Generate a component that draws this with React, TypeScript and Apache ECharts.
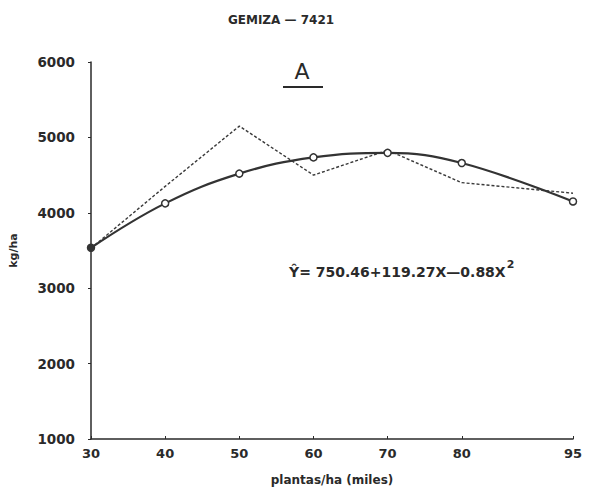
import React, { useEffect, useRef } from "react";
import * as echarts from "echarts";

const xValues = [30, 40, 50, 60, 70, 80, 95];
const fittedYield = [3536, 4125, 4520, 4735, 4795, 4660, 4150];
const observedYield = [3530, 4350, 5150, 4500, 4830, 4400, 4260];
const xTicks = [30, 40, 50, 60, 70, 80, 95];
const yTicks = [1000, 2000, 3000, 4000, 5000, 6000];

const FONT = "'DejaVu Sans', sans-serif";
const INK = "#2a2a2a";

export default function App() {
  const ref = useRef<HTMLDivElement>(null);
  useEffect(() => {
    document.body.style.margin = "0";
    if (!ref.current) return;
    const chart = echarts.init(ref.current, null, { renderer: "svg" });
    chart.setOption({
      animation: false,
      backgroundColor: "#ffffff",
      grid: { left: 89, right: 19, top: 62, bottom: 54 },
      xAxis: {
        type: "value",
        min: 30,
        max: 95,
        interval: 5,
        name: "plantas/ha (miles)",
        nameLocation: "middle",
        nameGap: 35,
        nameTextStyle: { fontFamily: FONT, fontSize: 12, fontWeight: "bold", color: INK },
        axisLine: { lineStyle: { color: INK, width: 1.5 } },
        axisTick: { inside: true, length: 3, customValues: xTicks, lineStyle: { color: INK } },
        axisLabel: {
          customValues: xTicks,
          margin: 8,
          fontFamily: FONT,
          fontSize: 13,
          fontWeight: "bold",
          color: INK,
          formatter: (v: number) => String(v),
        },
        splitLine: { show: false },
      },
      yAxis: {
        type: "value",
        min: 1000,
        max: 6000,
        interval: 1000,
        name: "kg/ha",
        nameLocation: "middle",
        nameGap: 72,
        nameRotate: 90,
        nameTextStyle: { fontFamily: FONT, fontSize: 11, fontWeight: "bold", color: INK },
        axisLine: { show: true, lineStyle: { color: INK, width: 1.5 } },
        axisTick: { show: true, length: 3, lineStyle: { color: INK } },
        axisLabel: {
          customValues: yTicks,
          margin: 16,
          fontFamily: FONT,
          fontSize: 13.5,
          fontWeight: "bold",
          color: INK,
          formatter: (v: number) => String(v),
        },
        splitLine: { show: false },
      },
      series: [
        {
          type: "line",
          data: xValues.map((x, i) => [x, observedYield[i]]),
          showSymbol: false,
          lineStyle: { color: "#3a3a3a", width: 1.4, type: [3, 2] },
          z: 2,
        },
        {
          type: "line",
          data: xValues.map((x, i) =>
            i === 0
              ? { value: [x, fittedYield[i]], itemStyle: { color: "#333" } }
              : [x, fittedYield[i]]
          ),
          smooth: 0.4,
          symbol: "circle",
          symbolSize: 7,
          itemStyle: { color: "#ffffff", borderColor: "#333", borderWidth: 1.5 },
          lineStyle: { color: "#333", width: 2.2 },
          z: 3,
        },
      ],
      graphic: [
        {
          type: "text",
          x: 281,
          y: 20,
          style: {
            text: "GEMIZA — 7421",
            font: `bold 12px ${FONT}`,
            fill: INK,
            align: "center",
            verticalAlign: "middle",
          },
        },
        {
          type: "text",
          x: 302,
          y: 71,
          style: {
            text: "A",
            font: `22px ${FONT}`,
            fill: INK,
            align: "center",
            verticalAlign: "middle",
          },
        },
        {
          type: "line",
          shape: { x1: 283, y1: 87, x2: 323, y2: 87 },
          style: { stroke: INK, lineWidth: 2 },
        },
        {
          type: "text",
          x: 289,
          y: 272,
          style: {
            text: "{m|Ŷ= 750.46+119.27X—0.88X}{s|2}",
            verticalAlign: "middle",
            fill: INK,
            rich: {
              m: { font: `bold 14px ${FONT}`, fill: INK },
              s: { font: `bold 11px ${FONT}`, fill: INK, padding: [0, 0, 16, 1] },
            },
          },
        },
      ],
    });
    return () => chart.dispose();
  }, []);
  return <div ref={ref} style={{ width: 592, height: 493 }} />;
}
